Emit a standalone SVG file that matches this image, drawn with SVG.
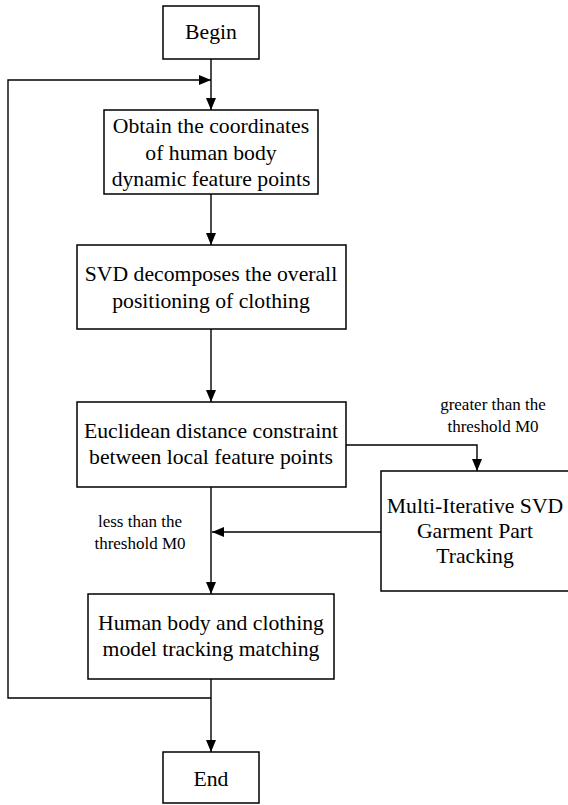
<svg xmlns="http://www.w3.org/2000/svg" width="568" height="805" viewBox="0 0 568 805">
<style>
.box{fill:#fff;stroke:#000;stroke-width:1.5}
.t{font-family:"Liberation Serif","Times New Roman",serif;font-size:21.7px;fill:#000;text-anchor:middle}
.s{font-family:"Liberation Serif","Times New Roman",serif;font-size:17px;fill:#000;text-anchor:middle}
.c{fill:none;stroke:#000;stroke-width:1.4}
</style>
<defs>
<marker id="ah" viewBox="0 0 12 10" refX="12" refY="5" markerWidth="12" markerHeight="10" markerUnits="userSpaceOnUse" orient="auto">
<path d="M0,0 L12,5 L0,10 Z" fill="#000"/>
</marker>
</defs>
<rect width="568" height="805" fill="#fff"/>
<g id="connectors">
<path class="c" d="M211,59 V110" marker-end="url(#ah)"/>
<path class="c" d="M211,698 H8 V80 H211" marker-end="url(#ah)"/>
<path class="c" d="M211,194 V245" marker-end="url(#ah)"/>
<path class="c" d="M211,329 V402" marker-end="url(#ah)"/>
<path class="c" d="M211,487 V594" marker-end="url(#ah)"/>
<path class="c" d="M346,445 H477 V471" marker-end="url(#ah)"/>
<path class="c" d="M381,532 H212" marker-end="url(#ah)"/>
<path class="c" d="M211,679 V752" marker-end="url(#ah)"/>
</g>
<g id="begin"><rect class="box" x="163" y="6" width="96" height="53"/><text class="t" x="211" y="39">Begin</text></g>
<g id="obtain"><rect class="box" x="104" y="110" width="214" height="84"/>
<text class="t" x="211" y="133">Obtain the coordinates</text>
<text class="t" x="211" y="160">of human body</text>
<text class="t" x="211" y="186">dynamic feature points</text></g>
<g id="svd"><rect class="box" x="77" y="245" width="269" height="84"/>
<text class="t" x="211" y="281">SVD decomposes the overall</text>
<text class="t" x="211" y="308">positioning of clothing</text></g>
<g id="euclid"><rect class="box" x="77" y="402" width="269" height="85"/>
<text class="t" x="211" y="438">Euclidean distance constraint</text>
<text class="t" x="211" y="464">between local feature points</text></g>
<g id="multi"><rect class="box" x="381" y="471" width="188" height="120"/>
<text class="t" x="475" y="513">Multi-Iterative SVD</text>
<text class="t" x="475" y="538">Garment Part</text>
<text class="t" x="475" y="563">Tracking</text></g>
<g id="match"><rect class="box" x="88" y="594" width="246" height="85"/>
<text class="t" x="211" y="630">Human body and clothing</text>
<text class="t" x="211" y="656">model tracking matching</text></g>
<g id="end"><rect class="box" x="163" y="752" width="96" height="51"/><text class="t" x="211" y="786">End</text></g>
<g id="labels">
<text class="s" x="493" y="410">greater than the</text>
<text class="s" x="493" y="432">threshold M0</text>
<text class="s" x="140" y="527">less than the</text>
<text class="s" x="140" y="549">threshold M0</text>
</g>
</svg>
